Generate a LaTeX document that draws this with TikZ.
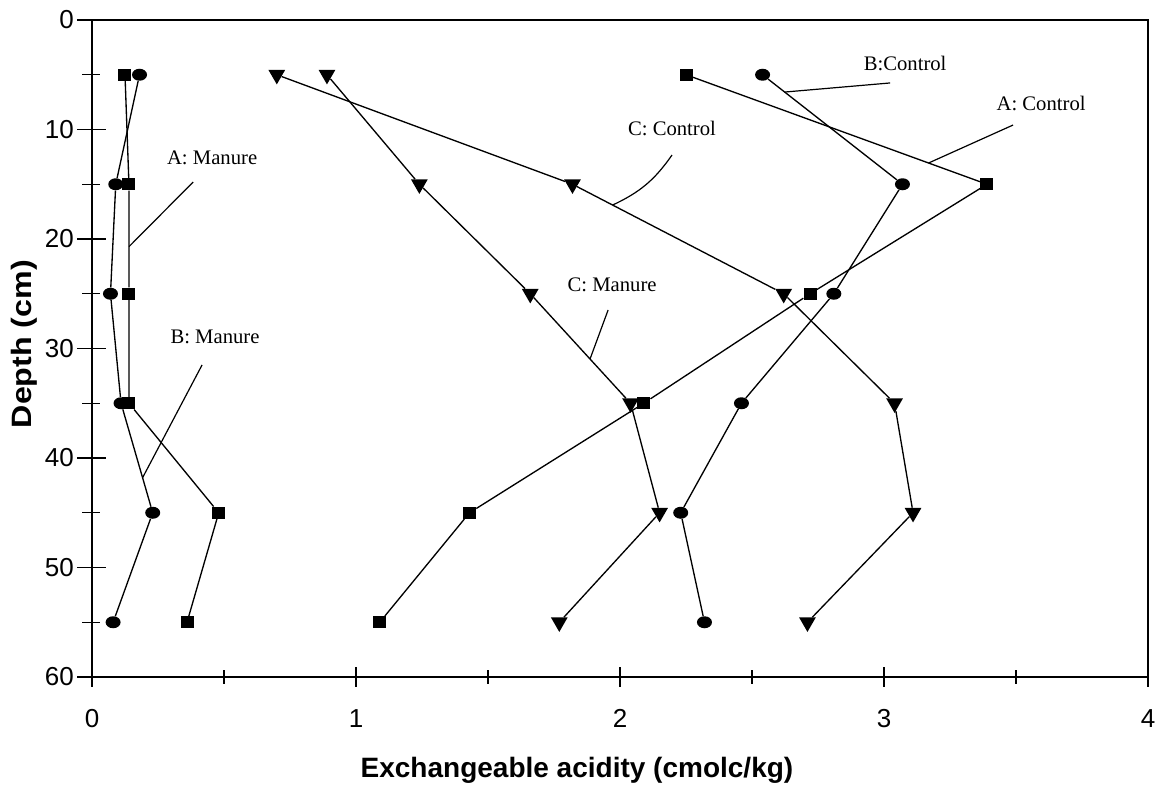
\documentclass[tikz,border=0pt]{standalone}
\usepackage{fontspec}
\setmainfont{Liberation Serif}
\setsansfont{Liberation Sans}
\usetikzlibrary{shapes.geometric,calc}

\tikzset{
  sq/.style={rectangle,fill=black,minimum width=9.75pt,minimum height=9pt,inner sep=0pt},
  ci/.style={ellipse,fill=black,minimum width=11.25pt,minimum height=9pt,inner sep=0pt},
  tri/.style={regular polygon,regular polygon sides=3,shape border rotate=180,fill=black,minimum size=14.5pt,inner sep=0pt},
  series/.style={line width=1pt},
  lead/.style={line width=0.9pt},
  axis/.style={line width=1.4pt},
  lab/.style={font=\fontsize{15.5}{18}\selectfont,inner sep=0pt},
  ticklab/.style={font=\sffamily\fontsize{19.5}{23}\selectfont,inner sep=0pt},
  ttl/.style={font=\sffamily\bfseries\fontsize{21}{25}\selectfont,inner sep=0pt}
}

\begin{document}
\begin{tikzpicture}[x=198pt,y=-8.2125pt]
  \useasboundingbox (-0.34848,-1.8265) rectangle (4.05303,70.5023);
  % frame and ticks
  \draw[axis] (0,0) rectangle (4,60);
  \foreach \y in {0,10,...,60} {
    \draw[line width=1pt] (-0.055,\y) -- (0.053,\y);
    \node[ticklab,anchor=east] (yl\y) at (-0.068,\y) {\y};
  }
  \foreach \y in {5,15,...,55} \draw[line width=1pt] (-0.036,\y) -- (0.03,\y);
  \foreach \x in {0,...,4} {
    \draw[line width=1pt] (\x,59.1) -- (\x,60.9);
    \node[ticklab] (xl\x) at (\x,63.8) {\x};
  }
  \foreach \x in {0.5,1.5,2.5,3.5} \draw[line width=1pt] (\x,59.4) -- (\x,60.6);
  \node[ttl] (xt) at (1.837,68.5) {Exchangeable acidity (cmolc/kg)};
  \node[ttl,rotate=90] (yt) at (-0.2576,29.6) {\scalebox{1.15}[1]{Depth (cm)}};

  % A: control
  \foreach \d/\v in {5/2.25,15/3.39,25/2.72,35/2.09,45/1.43,55/1.09}
    \node[sq] (ac\d) at (\v,\d) {};
  \draw[series] (ac5) -- (ac15) -- (ac25) -- (ac35) -- (ac45) -- (ac55);
  % B: control
  \foreach \d/\v in {5/2.54,15/3.07,25/2.81,35/2.46,45/2.23,55/2.32}
    \node[ci] (bc\d) at (\v,\d) {};
  \draw[series] (bc5) -- (bc15) -- (bc25) -- (bc35) -- (bc45) -- (bc55);
  % C: control
  \foreach \d/\v in {5/0.70,15/1.82,25/2.62,35/3.04,45/3.11,55/2.71}
    \node[tri] (cc\d) at (\v,\d) {};
  \draw[series] (cc5) -- (cc15) -- (cc25) -- (cc35) -- (cc45) -- (cc55);
  % C: manure
  \foreach \d/\v in {5/0.89,15/1.24,25/1.66,35/2.04,45/2.15,55/1.77}
    \node[tri] (cm\d) at (\v,\d) {};
  \draw[series] (cm5) -- (cm15) -- (cm25) -- (cm35) -- (cm45) -- (cm55);
  % A: manure
  \foreach \d/\v in {5/0.125,15/0.14,25/0.14,35/0.14,45/0.48,55/0.36}
    \node[sq] (am\d) at (\v,\d) {};
  \draw[series] (am5) -- (am15) -- (am25) -- (am35) -- (am45) -- (am55);
  % B: manure
  \foreach \d/\v in {5/0.18,15/0.09,25/0.07,35/0.11,45/0.23,55/0.08}
    \node[ci] (bm\d) at (\v,\d) {};
  \draw[series] (bm5) -- (bm15) -- (bm25) -- (bm35) -- (bm45) -- (bm55);

  % labels
  \node[lab] (lAC) at (3.595,7.58) {A: Control};
  \node[lab] (lBC) at (3.08,3.93) {B:Control};
  \node[lab] (lCC) at (2.197,9.95) {C: Control};
  \node[lab] (lCM) at (1.97,24.2) {C: Manure};
  \node[lab] (lAM) at (0.455,12.6) {A: Manure};
  \node[lab] (lBM) at (0.466,28.95) {B: Manure};
  \coordinate (tAC) at (3.489,9.59);
  \coordinate (tBC) at (3.023,5.75);
  \coordinate (tCC) at (2.197,12.33);
  \coordinate (tCM) at (1.955,26.48);
  \coordinate (tAM) at (0.383,14.8);
  \coordinate (tBM) at (0.417,31.5);
  \coordinate (pAC) at ($(ac5)!0.806!(ac15)$);
  \coordinate (pBC) at ($(bc5)!0.158!(bc15)$);
  \coordinate (pCC) at ($(cc15)!0.19!(cc25)$);
  \coordinate (pCM) at ($(cm25)!0.596!(cm35)$);
  \coordinate (pAM) at ($(am15)!0.57!(am25)$);
  \coordinate (pBM) at ($(bm35)!0.68!(bm45)$);
  \draw[lead] (tAC) -- (pAC);
  \draw[lead] (tBC) -- (pBC);
  \draw[lead] (tCC) to[bend left=15] (pCC);
  \draw[lead] (tCM) -- (pCM);
  \draw[lead] (tAM) -- (pAM);
  \draw[lead] (tBM) -- (pBM);
\end{tikzpicture}
\end{document}
